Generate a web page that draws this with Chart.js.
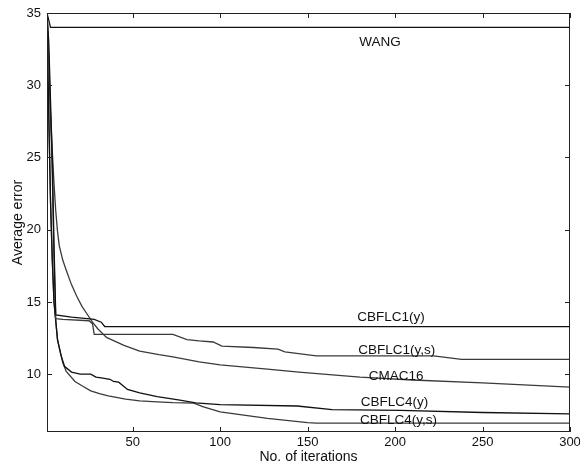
<!DOCTYPE html>
<html>
<head>
<meta charset="utf-8">
<script src="https://cdn.jsdelivr.net/npm/chart.js@4.4.1/dist/chart.umd.min.js"></script>
<style>
  html, body { margin: 0; padding: 0; background: #ffffff; }
  #wrap { width: 580px; height: 470px; position: relative; }
</style>
</head>
<body>
<div id="wrap"><canvas id="errChart"></canvas></div>
<script>
// ---------------- data ----------------
const xTicks = [50, 100, 150, 200, 250, 300];
const yTicks = [10, 15, 20, 25, 30, 35];

const wangIter = [1, 3, 300];
const wangErr  = [35, 34, 34];

const c1yIter = [1, 2, 3, 4, 5, 6, 15, 24, 28, 32, 34, 300];
const c1yErr  = [35, 33, 29, 25, 19, 14.1, 13.95, 13.85, 13.8, 13.6, 13.3, 13.3];

const c1ysIter = [1, 2, 3, 4, 5, 6, 10, 25, 27, 28, 73, 81, 88, 96, 101, 119, 133, 137, 155, 222, 238, 300];
const c1ysErr  = [35, 32, 28, 24, 18, 13.85, 13.8, 13.7, 13.5, 12.75, 12.75, 12.4, 12.3, 12.23, 11.95, 11.85, 11.73, 11.55, 11.27, 11.27, 11.02, 11.02];

const cmacIter = [1, 2, 3, 4, 5, 6, 7, 8, 10, 12, 15, 18, 21, 24, 27, 30, 35, 45, 54, 65, 73, 88, 100, 127, 145, 180, 210, 250, 300];
const cmacErr  = [35, 31.5, 28, 25.5, 23.2, 21.3, 19.9, 18.9, 17.9, 17.2, 16.2, 15.4, 14.7, 14.15, 13.6, 13.15, 12.55, 12.0, 11.6, 11.35, 11.2, 10.85, 10.65, 10.35, 10.15, 9.8, 9.6, 9.4, 9.1];

const c4yIter = [1, 2, 3, 4, 5, 7, 9, 11, 15, 20, 26, 29, 32, 37, 39, 42, 47, 54, 64, 77, 86, 100, 144, 164, 203, 250, 300];
const c4yErr  = [35, 28, 22, 18, 15, 12.4, 11.3, 10.55, 10.15, 10.0, 10.0, 9.8, 9.75, 9.65, 9.5, 9.45, 8.95, 8.7, 8.45, 8.2, 8.02, 7.9, 7.8, 7.55, 7.5, 7.35, 7.25];

const c4ysIter = [1, 2, 3, 4, 5, 7, 10, 12, 17, 21, 26, 31, 36, 46, 54, 64, 73, 85, 90, 100, 127, 150, 155, 300];
const c4ysErr  = [35, 28, 22, 18, 15, 12.4, 10.8, 10.2, 9.5, 9.2, 8.85, 8.65, 8.5, 8.27, 8.15, 8.08, 8.03, 8.0, 7.75, 7.4, 6.95, 6.65, 6.62, 6.62];

const seriesNames = ['WANG', 'CBFLC1(y)', 'CBFLC1(y,s)', 'CMAC16', 'CBFLC4(y)', 'CBFLC4(y,s)'];

// where the curve names sit, in data units
const labelIter = [191.4, 197.7, 201, 200.6, 199.6, 202];
const labelErr  = [32.95, 13.94, 11.65, 9.85, 8.05, 6.8];

// ---------------- helpers ----------------
function toPoints(xs, ys) {
    return xs.map((x, i) => ({ x: x, y: ys[i] }));
}

const lineColors = ['#111111', '#111111', '#3a3a3a', '#3a3a3a', '#111111', '#3a3a3a'];
const allIters = [wangIter, c1yIter, c1ysIter, cmacIter, c4yIter, c4ysIter];
const allErrs  = [wangErr, c1yErr, c1ysErr, cmacErr, c4yErr, c4ysErr];

const datasets = seriesNames.map((name, i) => ({
    label: name,
    data: toPoints(allIters[i], allErrs[i]),
    borderColor: lineColors[i],
    borderWidth: 1.3,
    pointRadius: 0,
    tension: 0,
    fill: false
}));

// frame + inward ticks + curve names
const framePlugin = {
    id: 'frame',
    afterDatasetsDraw(chart) {
        const { ctx, chartArea: a, scales } = chart;
        const tl = 5;
        ctx.save();
        ctx.strokeStyle = '#222222';
        ctx.lineWidth = 1;
        ctx.strokeRect(a.left + 0.5, a.top + 0.5, a.right - a.left - 1, a.bottom - a.top - 1);
        ctx.beginPath();
        xTicks.forEach(v => {
            const px = Math.round(scales.x.getPixelForValue(v)) + 0.5;
            ctx.moveTo(px, a.bottom); ctx.lineTo(px, a.bottom - tl);
            ctx.moveTo(px, a.top); ctx.lineTo(px, a.top + tl);
        });
        yTicks.forEach(v => {
            const py = Math.round(scales.y.getPixelForValue(v)) + 0.5;
            ctx.moveTo(a.left, py); ctx.lineTo(a.left + tl, py);
            ctx.moveTo(a.right, py); ctx.lineTo(a.right - tl, py);
        });
        ctx.stroke();

        ctx.fillStyle = '#111111';
        ctx.font = '13.5px "Liberation Sans", Arial, sans-serif';
        ctx.textAlign = 'center';
        ctx.textBaseline = 'middle';
        seriesNames.forEach((name, i) => {
            ctx.fillText(name, scales.x.getPixelForValue(labelIter[i]), scales.y.getPixelForValue(labelErr[i]));
        });
        ctx.restore();
    }
};

const tickFont = { family: '"Liberation Sans", Arial, sans-serif', size: 13 };
const titleFont = { family: '"Liberation Sans", Arial, sans-serif', size: 14 };

new Chart(document.getElementById('errChart').getContext('2d'), {
    type: 'line',
    data: { datasets },
    options: {
        responsive: true,
        maintainAspectRatio: false,
        animation: false,
        layout: { padding: { top: 13, right: 10, left: 0, bottom: 0 } },
        plugins: {
            legend: { display: false },
            tooltip: { enabled: false }
        },
        scales: {
            x: {
                type: 'linear',
                min: 1,
                max: 300,
                grid: { display: false, drawTicks: false },
                border: { display: false },
                afterBuildTicks: s => { s.ticks = xTicks.map(v => ({ value: v })); },
                afterFit: s => { s.height = 38; s.paddingLeft = 0; s.paddingRight = 0; },
                ticks: { color: '#111', font: tickFont, padding: 3, maxRotation: 0, autoSkip: false },
                title: { display: true, text: 'No. of iterations', color: '#111', font: titleFont, padding: { top: 0, bottom: 4 } }
            },
            y: {
                type: 'linear',
                min: 6,
                max: 35,
                grid: { display: false, drawTicks: false },
                border: { display: false },
                afterBuildTicks: s => { s.ticks = yTicks.map(v => ({ value: v })); },
                afterFit: s => { s.width = 47; s.paddingTop = 0; s.paddingBottom = 0; },
                ticks: { color: '#111', font: tickFont, padding: 6 },
                title: { display: true, text: 'Average error', color: '#111', font: titleFont, padding: { top: 10, bottom: 0 } }
            }
        }
    },
    plugins: [framePlugin]
});
</script>
</body>
</html>
